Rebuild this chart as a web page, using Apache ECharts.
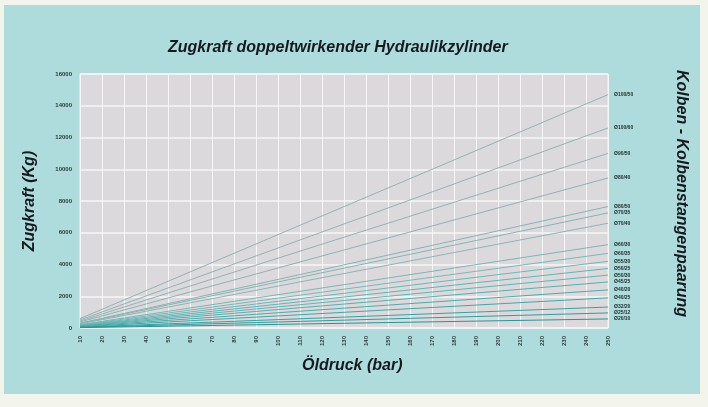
<!DOCTYPE html>
<html>
<head>
<meta charset="utf-8">
<script src="https://cdn.jsdelivr.net/npm/echarts@6/dist/echarts.min.js"></script>
<style>
  html, body { margin: 0; padding: 0; background: #f3f5ec; }
  #panel { position: absolute; left: 4px; top: 5px; width: 696px; height: 389px; background: #aedbdb; }
  #chart { position: absolute; left: 0; top: 0; width: 708px; height: 407px; }
</style>
</head>
<body>
<div id="panel"></div>
<div id="chart"></div>
<script>
// pressure range (bar)
const pressureStart = 10;
const pressureEnd = 250;

// piston / rod pairings, top to bottom
const pairings = [
  'Ø100/50', 'Ø100/60', 'Ø90/50', 'Ø80/40', 'Ø80/50', 'Ø70/35', 'Ø70/40',
  'Ø60/30', 'Ø60/35', 'Ø55/30', 'Ø50/25', 'Ø50/30', 'Ø45/25', 'Ø40/20',
  'Ø40/25', 'Ø32/20', 'Ø25/12', 'Ø20/10'
];

// pull force at start pressure (kg)
const forceStart = [590, 505, 440, 378, 306, 290, 262, 210, 188, 168, 150, 132, 116, 96, 76, 53, 38, 23];
// pull force at end pressure (kg)
const forceEnd = [14700, 12600, 11000, 9450, 7650, 7250, 6600, 5250, 4700, 4200, 3750, 3330, 2900, 2400, 1900, 1320, 950, 570];

const lineColors = [
  '#93b3b3', '#93b3b3', '#93b3b3', '#8fb2b2', '#86b4b4', '#86b4b4', '#8cb6b6',
  '#7cb5b5', '#7ab8b8', '#6cb8b8', '#62b4b4', '#5eb6b6', '#55b0b0', '#4aacac',
  '#3fa8a8', '#34a3a3', '#2b9e9e', '#1f9898'
];

const titleFont = {
  fontSize: 16,
  fontWeight: 'bold',
  fontStyle: 'italic',
  fontFamily: 'Liberation Sans'
};

const chart = echarts.init(document.getElementById('chart'));

const series = pairings.map((name, i) => ({
  name: name,
  type: 'line',
  symbol: 'none',
  silent: true,
  lineStyle: { width: 1, color: lineColors[i] },
  endLabel: {
    show: true,
    formatter: name,
    distance: 6,
    fontSize: 5,
    fontWeight: 'bold',
    color: '#1f2b2b',
    fontFamily: 'Liberation Sans'
  },
  data: [[pressureStart, forceStart[i]], [pressureEnd, forceEnd[i]]]
}));

const option = {
  animation: false,
  textStyle: { fontFamily: 'Liberation Sans' },
  grid: {
    left: 80,
    right: 100,
    top: 74,
    bottom: 79,
    show: true,
    backgroundColor: '#dcd9dc',
    borderColor: '#f4f4f4',
    borderWidth: 1
  },
  graphic: [
    {
      type: 'text',
      left: 168,
      top: 40,
      style: Object.assign({ text: 'Zugkraft doppeltwirkender Hydraulikzylinder', fill: '#151a1f' }, titleFont)
    },
    {
      type: 'text',
      x: 689,
      y: 70,
      rotation: -Math.PI / 2,
      style: Object.assign({ text: 'Kolben - Kolbenstangenpaarung', fill: '#151a1f' }, titleFont)
    },
    {
      type: 'text',
      left: 302,
      top: 358,
      style: Object.assign({ text: 'Öldruck (bar)', fill: '#151a1f' }, titleFont)
    }
  ],
  xAxis: {
    type: 'value',
    min: pressureStart,
    max: pressureEnd,
    interval: 10,
    axisLine: { show: false },
    axisTick: { show: false },
    axisLabel: { fontSize: 6, fontWeight: 'bold', color: '#2f3a3a', rotate: 90, margin: 8 },
    splitLine: { show: true, lineStyle: { color: '#f6f6f6', width: 1 } }
  },
  yAxis: {
    type: 'value',
    min: 0,
    max: 16000,
    interval: 2000,
    name: 'Zugkraft (Kg)',
    nameLocation: 'middle',
    nameGap: 42,
    nameTextStyle: Object.assign({ color: '#151a1f' }, titleFont),
    axisLine: { show: false },
    axisTick: { show: false },
    axisLabel: {
      fontSize: 6,
      fontWeight: 'bold',
      color: '#2f3a3a',
      margin: 8,
      formatter: (v) => String(v)
    },
    splitLine: { show: true, lineStyle: { color: '#f6f6f6', width: 1.5 } }
  },
  series: series
};

chart.setOption(option);
</script>
</body>
</html>
